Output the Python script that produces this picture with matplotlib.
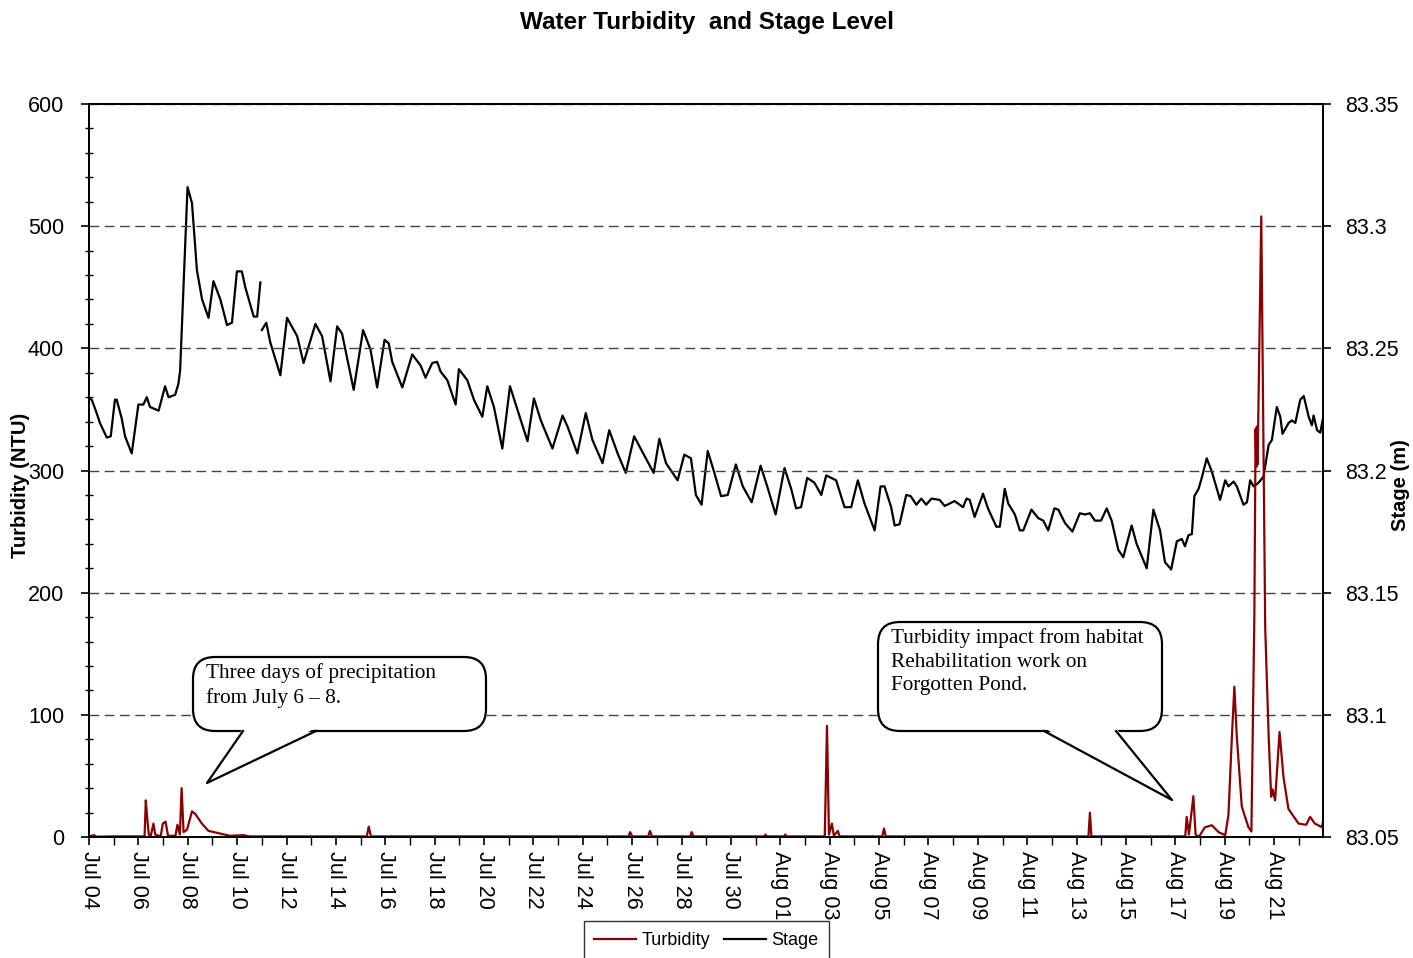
import pandas as pd
import matplotlib.pyplot as plt
import matplotlib.dates as mdates
from matplotlib.patches import FancyBboxPatch, Polygon
from matplotlib.lines import Line2D
from matplotlib.ticker import MultipleLocator, FuncFormatter

plt.rcParams['font.family'] = ['Liberation Sans', 'DejaVu Sans']

start = pd.Timestamp('2010-07-04')

# stage record (days after Jul 04 00:00, metres); NaN marks the logger gap
stage_days = [0.0, 0.11, 0.31, 0.44, 0.72, 0.88, 1.05, 1.12, 1.32, 1.46, 1.73, 2.0, 2.2, 2.34, 2.47,
              2.82, 3.08, 3.22, 3.49, 3.62, 3.69, 3.99, 4.17, 4.37, 4.58, 4.84, 5.04, 5.32, 5.59, 5.79,
              5.99, 6.19, 6.33, 6.67, 6.81, 6.94, 6.97, 7.0, 7.18, 7.34, 7.75, 8.02, 8.43, 8.69, 9.17,
              9.44, 9.78, 10.05, 10.25, 10.72, 11.1, 11.4, 11.67, 11.97, 12.14, 12.28, 12.69, 13.09,
              13.43, 13.63, 13.9, 14.1, 14.24, 14.51, 14.85, 14.98, 15.32, 15.59, 15.93, 16.13, 16.4,
              16.74, 17.05, 17.35, 17.76, 18.02, 18.3, 18.77, 19.18, 19.38, 19.78, 20.12, 20.39, 20.8,
              21.07, 21.41, 21.74, 22.08, 22.42, 22.87, 23.1, 23.37, 23.84, 24.11, 24.38, 24.58, 24.81,
              25.06, 25.33, 25.6, 25.87, 26.2, 26.48, 26.84, 27.2, 27.47, 27.81, 28.17, 28.44, 28.64,
              28.84, 29.09, 29.38, 29.66, 29.86, 30.26, 30.6, 30.87, 31.14, 31.41, 31.82, 32.06, 32.22,
              32.49, 32.63, 32.83, 33.1, 33.28, 33.51, 33.71, 33.91, 34.12, 34.45, 34.66, 35.06, 35.4,
              35.54, 35.67, 35.87, 36.21, 36.41, 36.75, 36.89, 37.09, 37.23, 37.5, 37.7, 37.84, 38.17,
              38.45, 38.65, 38.85, 39.1, 39.26, 39.53, 39.83, 40.13, 40.34, 40.54, 40.74, 40.99, 41.22,
              41.42, 41.69, 41.89, 42.23, 42.43, 42.84, 43.11, 43.38, 43.58, 43.83, 44.06, 44.26, 44.39,
              44.53, 44.67, 44.77, 44.94, 45.07, 45.27, 45.48, 45.81, 46.02, 46.15, 46.36, 46.49, 46.76,
              46.9, 47.03, 47.17, 47.37, 47.57, 47.78, 47.91, 48.11, 48.25, 48.34, 48.59, 48.72, 48.86,
              49.06, 49.2, 49.4, 49.53, 49.6, 49.74, 49.87, 50.0]
stage_m = [83.2295, 83.229, 83.2235, 83.2195, 83.2135, 83.214, 83.229, 83.229, 83.2215, 83.214, 83.207,
           83.227, 83.227, 83.23, 83.226, 83.2245, 83.2345, 83.23, 83.231, 83.2355, 83.241, 83.316,
           83.3095, 83.282, 83.27, 83.2625, 83.2775, 83.27, 83.2595, 83.2605, 83.2815, 83.2815, 83.275,
           83.263, 83.263, 83.277, float('nan'), 83.2575, 83.2605, 83.2525, 83.239, 83.2625, 83.255,
           83.244, 83.26, 83.255, 83.2365, 83.259, 83.256, 83.233, 83.2575, 83.2495, 83.234, 83.2535,
           83.252, 83.2445, 83.234, 83.2475, 83.243, 83.238, 83.244, 83.2445, 83.2405, 83.237, 83.227,
           83.2415, 83.237, 83.229, 83.222, 83.2345, 83.226, 83.209, 83.2345, 83.225, 83.212, 83.2295,
           83.2205, 83.209, 83.2225, 83.218, 83.207, 83.2235, 83.2125, 83.203, 83.2165, 83.207, 83.199,
           83.214, 83.2075, 83.199, 83.213, 83.203, 83.196, 83.2065, 83.205, 83.19, 83.186, 83.208,
           83.199, 83.1895, 83.19, 83.2025, 83.1935, 83.187, 83.202, 83.1935, 83.182, 83.201, 83.1925,
           83.1845, 83.185, 83.197, 83.195, 83.19, 83.198, 83.196, 83.185, 83.185, 83.196, 83.1865,
           83.1755, 83.1935, 83.1935, 83.185, 83.1775, 83.178, 83.19, 83.1895, 83.186, 83.1885, 83.186,
           83.1885, 83.188, 83.1855, 83.1875, 83.185, 83.1885, 83.188, 83.181, 83.1905, 83.1845, 83.177,
           83.177, 83.1925, 83.1865, 83.182, 83.1755, 83.1755, 83.184, 83.1805, 83.1795, 83.1755,
           83.1845, 83.184, 83.1785, 83.175, 83.1825, 83.182, 83.1825, 83.1795, 83.1795, 83.1845,
           83.1795, 83.1675, 83.1645, 83.1775, 83.17, 83.16, 83.184, 83.1755, 83.1625, 83.1595, 83.171,
           83.172, 83.169, 83.1735, 83.174, 83.1895, 83.1925, 83.197, 83.205, 83.1995, 83.188, 83.196,
           83.1935, 83.1955, 83.1935, 83.186, 83.187, 83.196, 83.1935, 83.195, 83.1975, 83.2105, 83.2125,
           83.226, 83.222, 83.215, 83.2195, 83.2205, 83.2195, 83.229, 83.2305, 83.222, 83.2185, 83.2225,
           83.2165, 83.2155, 83.2225]

# turbidity record (days after Jul 04 00:00, NTU)
turb_days = [0.0, 0.2, 0.3, 1.0, 2.25, 2.3, 2.36, 2.42, 2.5, 2.61, 2.68, 2.9, 2.99, 3.1, 3.2, 3.5,
             3.58, 3.68, 3.75, 3.83, 3.97, 4.17, 4.3, 4.57, 4.84, 5.17, 5.7, 6.26, 6.5, 11.25, 11.33,
             11.42, 21.85, 21.92, 22.0, 22.65, 22.72, 22.8, 24.35, 24.41, 24.48, 27.35, 27.4, 27.45,
             28.15, 28.2, 28.25, 29.8, 29.89, 29.97, 30.09, 30.17, 30.33, 30.4, 32.13, 32.2, 32.27,
             40.48, 40.54, 40.6, 44.4, 44.46, 44.55, 44.73, 44.82, 44.95, 45.2, 45.48, 45.75, 46.02,
             46.15, 46.29, 46.39, 46.49, 46.69, 46.96, 47.08, 47.2, 47.25, 47.28, 47.3, 47.33, 47.48,
             47.64, 47.78, 47.88, 47.94, 48.04, 48.22, 48.38, 48.58, 48.99, 49.3, 49.46, 49.65,
             49.94, 50.0]
turb_ntu = [0.5, 1.5, 0.3, 0.5, 0.5, 30, 15, 2, 1, 11, 2, 0.5, 11, 12.5, 1, 1,
            10, 2, 40, 4, 6, 21, 19, 11, 5, 3.5, 1, 1.5, 0.5, 0.5, 8.5,
            0.5, 0.5, 4, 0.5, 0.5, 5, 0.5, 0.5, 4, 0.5, 0.5, 2, 0.5,
            0.5, 2, 0.5, 0.5, 91, 2, 11, 1, 5, 0.5, 0.5, 7, 0.5,
            0.5, 20, 0.5, 0.5, 16.5, 2, 33.4, 2, 0, 8, 9.6, 4, 1.5,
            18, 82, 123, 82, 25, 8, 4.5, 181, 334, 303, 336, 305, 508,
            171, 82, 33, 39, 30, 86, 49, 23, 11, 10, 16.5, 11,
            8, 15]

stage_t = start + pd.to_timedelta(stage_days, unit='D')
turb_t = start + pd.to_timedelta(turb_days, unit='D')
label_dates = pd.date_range('2010-07-04', '2010-08-21', freq='2D')

fig = plt.figure(figsize=(14.13, 9.58), dpi=100)
ax = fig.add_axes([0.063, 0.1263, 0.8733, 0.7651])
ax2 = ax.twinx()

l1, = ax.plot(turb_t, turb_ntu, c='#8B0000', lw=1.6, label='Turbidity')
l2, = ax2.plot(stage_t, stage_m, c='black', lw=1.6, label='Stage')
ax.set_zorder(ax2.get_zorder() + 1)
ax.patch.set_visible(False)

ax.set_xlim(start, start + pd.Timedelta(days=49.98))
ax.set_ylim(0, 600)
ax.yaxis.set_major_locator(MultipleLocator(100))
ax.yaxis.set_minor_locator(MultipleLocator(20))
ax.yaxis.grid(True, color='#444444', ls=(0, (7, 4)), lw=1)
ax2.set_ylim(83.05, 83.35)
ax2.set_yticks([83.05, 83.1, 83.15, 83.2, 83.25, 83.3, 83.35])
ax2.yaxis.set_major_formatter(FuncFormatter(lambda v, p: '{:g}'.format(round(v, 2))))

ax.set_xticks(label_dates)
ax.xaxis.set_major_formatter(mdates.DateFormatter('%b %d'))
ax.xaxis.set_minor_locator(mdates.DayLocator())
plt.setp(ax.get_xticklabels(), rotation=-90, ha='center', va='top')

ax.tick_params(axis='y', which='major', labelsize=15.5, length=6, width=1.2, pad=12)
ax.tick_params(axis='x', which='major', labelsize=15.5, length=6, width=1.2, pad=4)
ax.tick_params(axis='y', which='minor', length=6, width=1, direction='inout')
ax.tick_params(axis='x', which='minor', length=6, width=1)
ax2.tick_params(axis='y', labelsize=15.5, length=6, width=1.2, pad=10)
for a in (ax, ax2):
    for s in a.spines.values():
        s.set_linewidth(1.3)
        s.set_color('black')

ax.set_ylabel('Turbidity (NTU)', fontsize=14.5, fontweight='bold')
ax.yaxis.set_label_coords(-0.048, 0.48)
ax2.set_ylabel('Stage (m)', fontsize=14.5, fontweight='bold')
ax2.yaxis.set_label_coords(1.055, 0.48)

fig.text(0.5, 1 - 22 / 958, 'Water Turbidity  and Stage Level', ha='center', va='center',
         fontsize=17.5, fontweight='bold')


def bubble(x0, y0, x1, y1, tail, text):
    # positions in output pixels from the top-left corner
    H = 9.58
    box = FancyBboxPatch((x0 / 100, H - y1 / 100), (x1 - x0) / 100, (y1 - y0) / 100,
                         boxstyle='round,pad=0,rounding_size=0.22', transform=fig.dpi_scale_trans,
                         fc='white', ec='black', lw=1.6, zorder=5)
    fig.add_artist(box)
    (bx1, tx, ty, bx2) = tail
    poly = Polygon([(bx1 / 100, H - y1 / 100 + 0.03), (tx / 100, H - ty / 100),
                    (bx2 / 100, H - y1 / 100 + 0.03)], closed=True, transform=fig.dpi_scale_trans,
                   fc='white', ec='none', zorder=6)
    fig.add_artist(poly)
    fig.add_artist(Line2D([bx1 / 100, tx / 100, bx2 / 100], [H - y1 / 100, H - ty / 100, H - y1 / 100],
                          transform=fig.dpi_scale_trans, color='black', lw=1.6, zorder=7))
    fig.text((x0 + 13) / 1413, 1 - (y0 + 6) / 958, text, ha='left', va='top', fontsize=15.3,
             family=['Liberation Serif'], linespacing=1.34, zorder=8)


bubble(193, 657, 486, 731, (243, 207, 783, 316), 'Three days of precipitation\nfrom July 6 \u2013 8.')
bubble(878, 622, 1162, 731, (1044, 1172, 800, 1116),
       'Turbidity impact from habitat\nRehabilitation work on\nForgotten Pond.')

leg = fig.legend([l1, l2], ['Turbidity', 'Stage'], loc='upper center', bbox_to_anchor=(0.5, 1 - 921 / 958),
                 ncol=2, fontsize=13, frameon=True, fancybox=False, edgecolor='black',
                 handlelength=2.3, columnspacing=0.8, handletextpad=0.3, borderaxespad=0, borderpad=0.6)
leg.get_frame().set_linewidth(1)

plt.savefig('out.png', dpi=100)
